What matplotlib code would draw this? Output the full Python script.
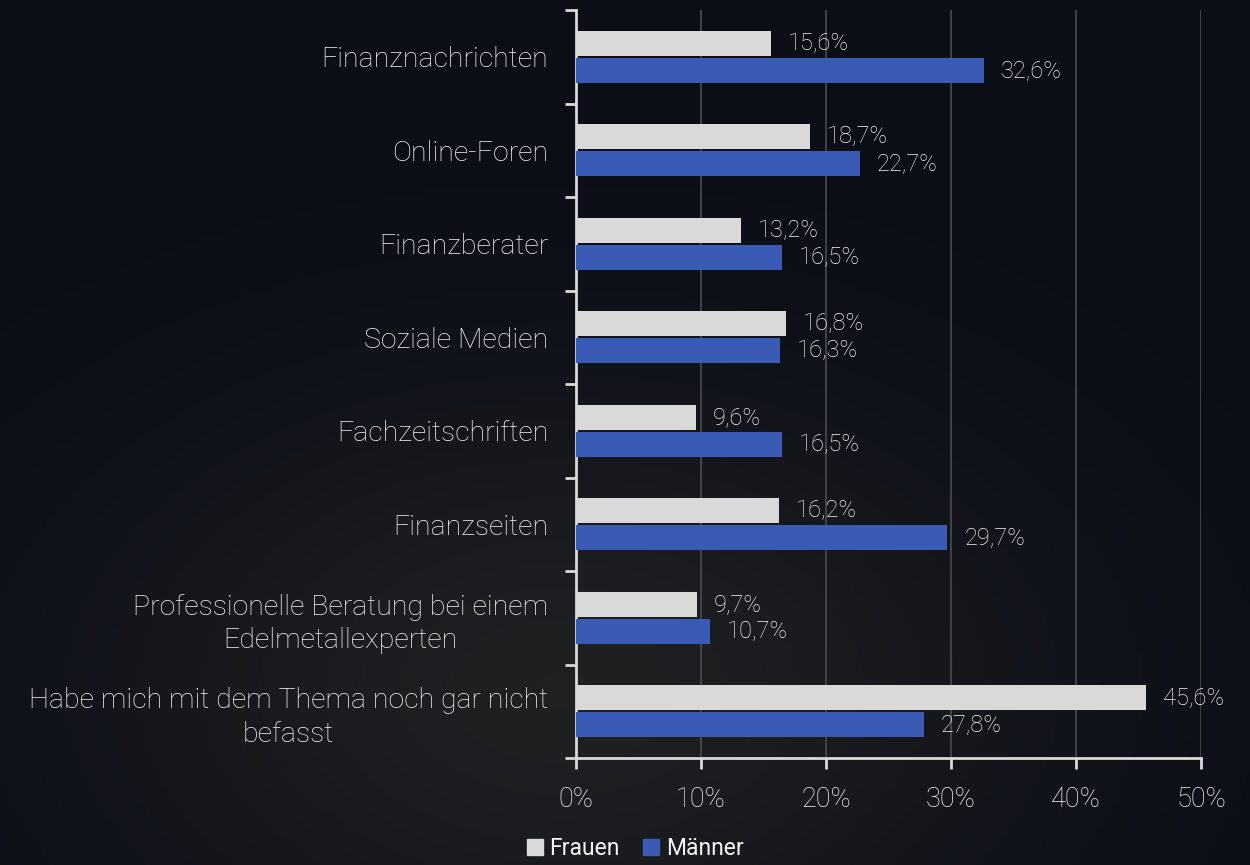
import numpy as np
import matplotlib
matplotlib.use('Agg')
import matplotlib.pyplot as plt
from matplotlib.patches import Patch

categories = [
    'Finanznachrichten',
    'Online-Foren',
    'Finanzberater',
    'Soziale Medien',
    'Fachzeitschriften',
    'Finanzseiten',
    'Professionelle Beratung bei einem\nEdelmetallexperten',
    'Habe mich mit dem Thema noch gar nicht\nbefasst',
]
frauen = [15.6, 18.7, 13.2, 16.8, 9.6, 16.2, 9.7, 45.6]
maenner = [32.6, 22.7, 16.5, 16.3, 16.5, 29.7, 10.7, 27.8]
x_ticks = [0, 10, 20, 30, 40, 50]

bg = '#0b0e17'
txt = '#f4f4f4'
c_frauen = '#d9d9d9'
c_maenner = '#3a5bb5'

plt.rcParams['font.family'] = ['Roboto', 'DejaVu Sans']

fig = plt.figure(figsize=(12.5, 8.65), dpi=100, facecolor=bg)

# dark photo-like backdrop: a soft lighter patch low in the middle
bgax = fig.add_axes([0, 0, 1, 1], zorder=-10)
yy, xx = np.mgrid[0:1:200j, 0:1:300j]
glow = np.exp(-(((xx - 0.45) / 0.38) ** 2 + ((yy - 0.2) / 0.35) ** 2))
bgax.imshow(glow, cmap=matplotlib.colors.LinearSegmentedColormap.from_list(
    'bg', [bg, '#1f2022']), origin='lower', aspect='auto', extent=[0, 1, 0, 1])
bgax.axis('off')

ax = fig.add_axes([0.4608, 0.1237, 0.5, 0.8647])
ax.set_facecolor('none')

y = np.arange(len(categories))
h = 0.27
ax.barh(y - 0.145, frauen, height=h, color=c_frauen, zorder=3)
ax.barh(y + 0.145, maenner, height=h, color=c_maenner, zorder=3)

for yi, v in zip(y, frauen):
    ax.text(v + 1.35, yi - 0.145, f'{v:.1f}%'.replace('.', ','), color=txt,
            fontsize=17, va='center', ha='left', fontweight='light')
for yi, v in zip(y, maenner):
    ax.text(v + 1.35, yi + 0.145, f'{v:.1f}%'.replace('.', ','), color=txt,
            fontsize=17, va='center', ha='left', fontweight='light')

ax.set_xlim(0, 50)
ax.set_ylim(len(categories) - 0.5, -0.5)
ax.set_xticks(x_ticks)
ax.set_xticklabels([f'{t}%' for t in x_ticks], fontsize=19.5, color=txt,
                   fontweight='light')
ax.set_yticks(y)
ax.set_yticklabels(categories, fontsize=20.5, color=txt, fontweight='light',
                   linespacing=1.3, multialignment='center')
ax.set_yticks(np.arange(-0.5, len(categories)), minor=True)
ax.tick_params(axis='y', which='major', length=0, pad=20)
ax.tick_params(axis='y', which='minor', length=8, width=2, color=c_frauen)
ax.tick_params(axis='x', length=8, width=2, color=c_frauen, pad=12)

ax.grid(axis='x', color='#4a4c52', linewidth=1.2, zorder=0)
for s in ['top', 'right']:
    ax.spines[s].set_visible(False)
for s in ['left', 'bottom']:
    ax.spines[s].set_color(c_frauen)
    ax.spines[s].set_linewidth(2)

handles = [Patch(color=c_frauen, label='Frauen'), Patch(color=c_maenner, label='Männer')]
fig.legend(handles=handles, loc='lower center', bbox_to_anchor=(0.508, -0.018),
           ncol=2, frameon=False, fontsize=16.5, labelcolor=txt,
           handlelength=0.7, handleheight=0.7, handletextpad=0.3, columnspacing=1.0)

fig.savefig('out.png', dpi=100, facecolor=bg)
